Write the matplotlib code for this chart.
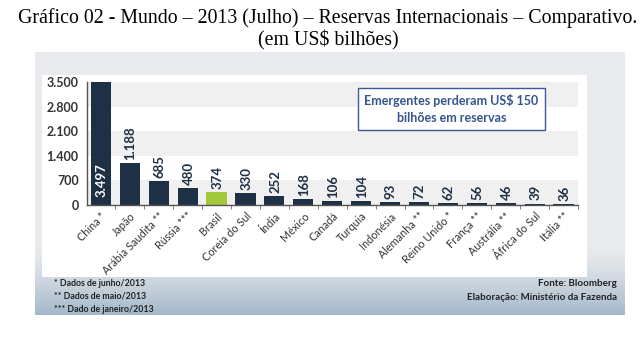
import matplotlib
matplotlib.use("Agg")
import matplotlib.pyplot as plt
import numpy as np
from matplotlib.patches import Rectangle

countries = ["China *", "Japão", "Arábia Saudita **", "Rússia ***", "Brasil",
             "Coreia do Sul", "Índia", "México", "Canadá", "Turquia", "Indonésia",
             "Alemanha **", "Reino Unido *", "França **", "Austrália **",
             "África do Sul", "Itália **"]
values = [3497, 1188, 685, 480, 374, 330, 252, 168, 106, 104, 93, 72, 62, 56, 46, 39, 36]
value_labels = ["3.497", "1.188", "685", "480", "374", "330", "252", "168", "106",
                "104", "93", "72", "62", "56", "46", "39", "36"]
yticks = [0, 700, 1400, 2100, 2800, 3500]
ytick_labels = ["0", "700", "1.400", "2.100", "2.800", "3.500"]
highlight = "Brasil"

title1 = "Gráfico 02 - Mundo – 2013 (Julho) – Reservas Internacionais – Comparativo."
title2 = "(em US$ bilhões)"
box_text = "Emergentes perderam US$ 150\nbilhões em reservas"
notes = ["* Dados de junho/2013", "** Dados de maio/2013", "*** Dado de janeiro/2013"]
sources = ["Fonte: Bloomberg", "Elaboração: Ministério da Fazenda"]

W, H = 641, 353
fig = plt.figure(figsize=(W / 100, H / 100), dpi=100)
fig.patch.set_facecolor("white")

def fx(px):
    return px / W

def fy(py):
    return 1 - py / H

# background panel with gradient
bg = fig.add_axes([fx(35), fy(315), fx(625) - fx(35), fy(52) - fy(315)])
bg.set_axis_off()
grad = np.linspace(0, 1, 256).reshape(-1, 1)
top = np.array([0.91, 0.92, 0.93])
bot = np.array([0.64, 0.72, 0.79])
mix = np.clip((grad - 0.75) / 0.25, 0, 1) ** 1.3
img = top[None, None, :] * (1 - mix[..., None]) + bot[None, None, :] * mix[..., None]
bg.imshow(img, aspect="auto", extent=[0, 1, 0, 1], origin="upper")
bg.set_xlim(0, 1)
bg.set_ylim(0, 1)
# white inner panel
bg.add_patch(Rectangle(((42 - 35) / 590, (315 - 277) / 263), (587 - 42) / 590,
                       (277 - 75) / 263, facecolor="white", edgecolor="none"))

# main chart
ax = fig.add_axes([fx(87), fy(205), fx(578) - fx(87), fy(82) - fy(205)])
ax.set_facecolor("none")
x = np.arange(len(values))
navy = "#1d3046"
green = "#a3c83c"
colors = [green if c == highlight else navy for c in countries]

# alternating bands
for i in range(len(yticks) - 1):
    if i % 2 == 0:
        ax.axhspan(yticks[-1 - i - 1], yticks[-1 - i], color="#f0f0f0", zorder=0, lw=0)

ax.bar(x, values, width=0.7, color=colors, zorder=2)
ax.set_xlim(-0.48, len(values) - 0.55)
ax.set_ylim(0, 3500)

for i, (v, lab) in enumerate(zip(values, value_labels)):
    if i == 0:
        ax.text(i + 0.03, 230, lab, rotation=90, ha="center", va="bottom",
                color="white", fontsize=9.5, fontweight="bold", family="Lato", zorder=3)
    else:
        ax.text(i + 0.03, v + 90, lab, rotation=90, ha="center", va="bottom",
                color=navy, fontsize=9.5, fontweight="bold", family="Lato", zorder=3)

ax.set_yticks(yticks)
ax.set_yticklabels(ytick_labels, fontsize=9, fontweight="bold", family="Lato", color="#333333")
ax.set_xticks(x)
ax.set_xticklabels(countries, rotation=45, ha="right", rotation_mode="anchor",
                   fontsize=7.8, family="Lato", color="#333333")
ax.set_xticks(np.arange(len(values)) + 0.5, minor=True)
ax.tick_params(axis="x", which="major", length=0, pad=4)
ax.tick_params(axis="x", which="minor", length=3, color="#666666", direction="out")
ax.tick_params(axis="y", length=0, pad=6)
for s in ["top", "right"]:
    ax.spines[s].set_visible(False)
for s in ["left", "bottom"]:
    ax.spines[s].set_color("#555555")
    ax.spines[s].set_linewidth(1.0)

# annotation box
fig.patches.append(Rectangle((fx(358), fy(130)), fx(545) - fx(358), fy(88) - fy(130),
                             transform=fig.transFigure, facecolor="white",
                             edgecolor="#3b5998", linewidth=1.0, zorder=5))
fig.text(fx(451.5), fy(109), box_text, ha="center", va="center", fontsize=9,
         fontweight="bold", family="Lato", color="#34558f", linespacing=1.5, zorder=6)

# titles
fig.text(fx(328), fy(18), title1, ha="center", va="center", fontsize=14.3,
         family="Liberation Serif", color="black")
fig.text(fx(328), fy(40), title2, ha="center", va="center", fontsize=14.3,
         family="Liberation Serif", color="black")

# notes
for i, n in enumerate(notes):
    fig.text(fx(54), fy(283 + 13 * i), n, ha="left", va="center", fontsize=6.3,
             fontweight="bold", family="Lato", color="#222222")
for i, s in enumerate(sources):
    fig.text(fx(617), fy(283 + 14 * i), s, ha="right", va="center", fontsize=7,
             fontweight="bold", family="Lato", color="#222222")

fig.savefig("out.png", dpi=100)
